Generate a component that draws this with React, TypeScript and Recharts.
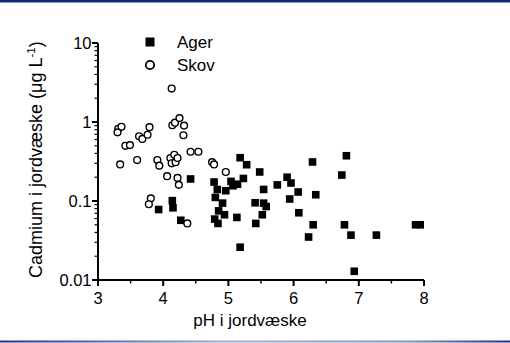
import React from 'react';
import { ScatterChart, Scatter, XAxis, YAxis, Legend } from 'recharts';

const agerPH = [3.93, 4.14, 4.15, 4.27, 4.42, 4.78, 4.83, 4.80, 4.91, 4.85, 4.94, 4.79, 4.84, 4.96, 5.04, 5.07, 5.14, 5.23, 5.18, 5.28, 5.13, 5.18, 5.48, 5.54, 5.41, 5.54, 5.58, 5.52, 5.42, 5.75, 5.90, 5.96, 5.94, 6.07, 6.08, 6.29, 6.34, 6.30, 6.23, 6.74, 6.81, 6.78, 6.88, 6.93, 7.27, 7.87, 7.95];
const agerCd = [0.078, 0.101, 0.082, 0.057, 0.19, 0.174, 0.14, 0.111, 0.094, 0.075, 0.067, 0.059, 0.052, 0.135, 0.177, 0.156, 0.163, 0.193, 0.353, 0.288, 0.062, 0.026, 0.233, 0.14, 0.095, 0.094, 0.085, 0.067, 0.052, 0.16, 0.20, 0.169, 0.106, 0.13, 0.071, 0.312, 0.12, 0.050, 0.035, 0.213, 0.374, 0.050, 0.037, 0.0129, 0.037, 0.050, 0.050];

const skovPH = [3.31, 3.36, 3.30, 3.42, 3.49, 3.63, 3.68, 3.76, 3.79, 4.13, 4.14, 4.18, 4.25, 4.32, 4.31, 3.34, 3.60, 3.91, 3.94, 4.11, 4.17, 4.13, 4.19, 4.22, 4.06, 4.22, 4.24, 4.42, 4.54, 4.75, 4.78, 4.96, 3.81, 3.78, 4.37];
const skovCd = [0.82, 0.87, 0.74, 0.50, 0.51, 0.66, 0.61, 0.69, 0.86, 2.65, 0.91, 0.98, 1.12, 0.90, 0.68, 0.29, 0.33, 0.33, 0.28, 0.35, 0.385, 0.30, 0.31, 0.35, 0.206, 0.196, 0.16, 0.42, 0.42, 0.31, 0.29, 0.233, 0.108, 0.091, 0.052];

const seriesNames = ['Ager', 'Skov'];
const xTicks = [3, 3.5, 4, 4.5, 5, 5.5, 6, 6.5, 7, 7.5, 8];
const xMajor = [3, 4, 5, 6, 7, 8];
const yMajor = [0.01, 0.1, 1, 10];
const yMajorLabels = ['0.01', '0.1', '1', '10'];
const yMinorMult = [2, 3, 4, 5, 6, 7, 8, 9];
const yTicks: number[] = [];
[0.01, 0.1, 1].forEach((d) => {
  yTicks.push(d);
  yMinorMult.forEach((m) => yTicks.push(+(d * m).toPrecision(3)));
});
yTicks.push(10);

const xTitle = 'pH i jordvæske';
const yTitle = 'Cadmium i jordvæske (μg L';

const agerData = agerPH.map((x, i) => ({ x, y: agerCd[i] }));
const skovData = skovPH.map((x, i) => ({ x, y: skovCd[i] }));

const FONT = '"Liberation Sans", Arial, sans-serif';

const XTick = (props: any) => {
  const { x, y, payload } = props;
  const v = payload.value;
  const major = xMajor.some((m) => Math.abs(m - v) < 1e-6);
  return (
    <g>
      <line x1={x} x2={x} y1={y} y2={y + (major ? 6 : 3.5)} stroke="#000" strokeWidth={major ? 2 : 1.5} />
      {major && (
        <text x={x} y={y + 24} textAnchor="middle" fontFamily={FONT} fontSize={16.5} fill="#000">
          {String(v)}
        </text>
      )}
    </g>
  );
};

const YTick = (props: any) => {
  const { x, y, payload } = props;
  const v = payload.value;
  const idx = yMajor.findIndex((m) => Math.abs(m - v) / m < 1e-6);
  const major = idx >= 0;
  return (
    <g>
      <line x1={x} x2={x - (major ? 6 : 3.5)} y1={y} y2={y} stroke="#000" strokeWidth={major ? 2 : 1.2} />
      {major && (
        <text x={x - 6.5} y={y + 6} textAnchor="end" fontFamily={FONT} fontSize={16.5} fill="#000">
          {yMajorLabels[idx]}
        </text>
      )}
    </g>
  );
};

const SquareShape = (props: any) => {
  const { cx, cy } = props;
  if (cx == null || cy == null) return null;
  return <rect x={cx - 3.8} y={cy - 3.8} width={7.6} height={7.6} fill="#000" />;
};

const CircleShape = (props: any) => {
  const { cx, cy } = props;
  if (cx == null || cy == null) return null;
  return <circle cx={cx} cy={cy} r={3.4} fill="#fff" stroke="#000" strokeWidth={1.4} />;
};

const renderLegend = () => (
  <svg width={510} height={343} style={{ position: 'absolute', top: 0, left: 0, pointerEvents: 'none' }}>
    <rect x={145.5} y={37.5} width={9} height={9} fill="#000" />
    <text x={177} y={48} fontFamily={FONT} fontSize={17} fill="#000">{seriesNames[0]}</text>
    <circle cx={150} cy={65} r={4.2} fill="#fff" stroke="#000" strokeWidth={1.8} />
    <text x={177} y={71} fontFamily={FONT} fontSize={17} fill="#000">{seriesNames[1]}</text>
  </svg>
);

const XLabel = () => (
  <text x={250} y={326} textAnchor="middle" fontFamily={FONT} fontSize={17} fill="#000">{xTitle}</text>
);

const YLabel = () => (
  <text x={41.5} y={278} transform="rotate(-90, 41.5, 278)" textAnchor="start" fontFamily={FONT} fontSize={18} fill="#000">
    <tspan>{yTitle}</tspan>
    <tspan fontSize={11.5} dy={-7}>-1</tspan>
    <tspan dy={7}>)</tspan>
  </text>
);

export default function App() {
  return (
    <div style={{ position: 'fixed', top: 0, left: 0, width: 510, height: 343, background: '#fff' }}>
      <ScatterChart width={510} height={343} margin={{ top: 43, right: 86, bottom: 0, left: 0 }}>
        <XAxis
          type="number"
          dataKey="x"
          domain={[3, 8]}
          ticks={xTicks}
          interval={0}
          height={63}
          tickSize={0}
          tickMargin={0}
          tickLine={false}
          axisLine={{ stroke: '#000', strokeWidth: 2 }}
          tick={<XTick />}
          label={<XLabel />}
          allowDataOverflow
        />
        <YAxis
          type="number"
          dataKey="y"
          scale="log"
          domain={[0.01, 10]}
          ticks={yTicks}
          interval={0}
          width={98}
          tickSize={0}
          tickMargin={0}
          tickLine={false}
          axisLine={{ stroke: '#000', strokeWidth: 2 }}
          tick={<YTick />}
          label={<YLabel />}
          allowDataOverflow
        />
        <Legend
          layout="vertical"
          align="center"
          verticalAlign="middle"
          content={renderLegend}
          wrapperStyle={{ position: 'absolute', top: 0, left: 0, width: 510, height: 343 }}
        />
        <Scatter name={seriesNames[0]} data={agerData} shape={<SquareShape />} isAnimationActive={false} />
        <Scatter name={seriesNames[1]} data={skovData} shape={<CircleShape />} isAnimationActive={false} />
      </ScatterChart>
      <svg width={510} height={343} style={{ position: 'absolute', top: 0, left: 0, pointerEvents: 'none' }}>
        <defs>
          <linearGradient id="btm" x1="0" x2="1" y1="0" y2="0">
            <stop offset="0" stopColor="#1b3680" />
            <stop offset="0.12" stopColor="#3a58a0" />
            <stop offset="0.45" stopColor="#9db2dc" />
            <stop offset="0.8" stopColor="#7d96c8" />
            <stop offset="1" stopColor="#1b3680" />
          </linearGradient>
        </defs>
        <rect x={0} y={0} width={510} height={2.5} fill="#10297a" />
        <rect x={0} y={340.5} width={510} height={2} fill="url(#btm)" />
      </svg>
    </div>
  );
}
